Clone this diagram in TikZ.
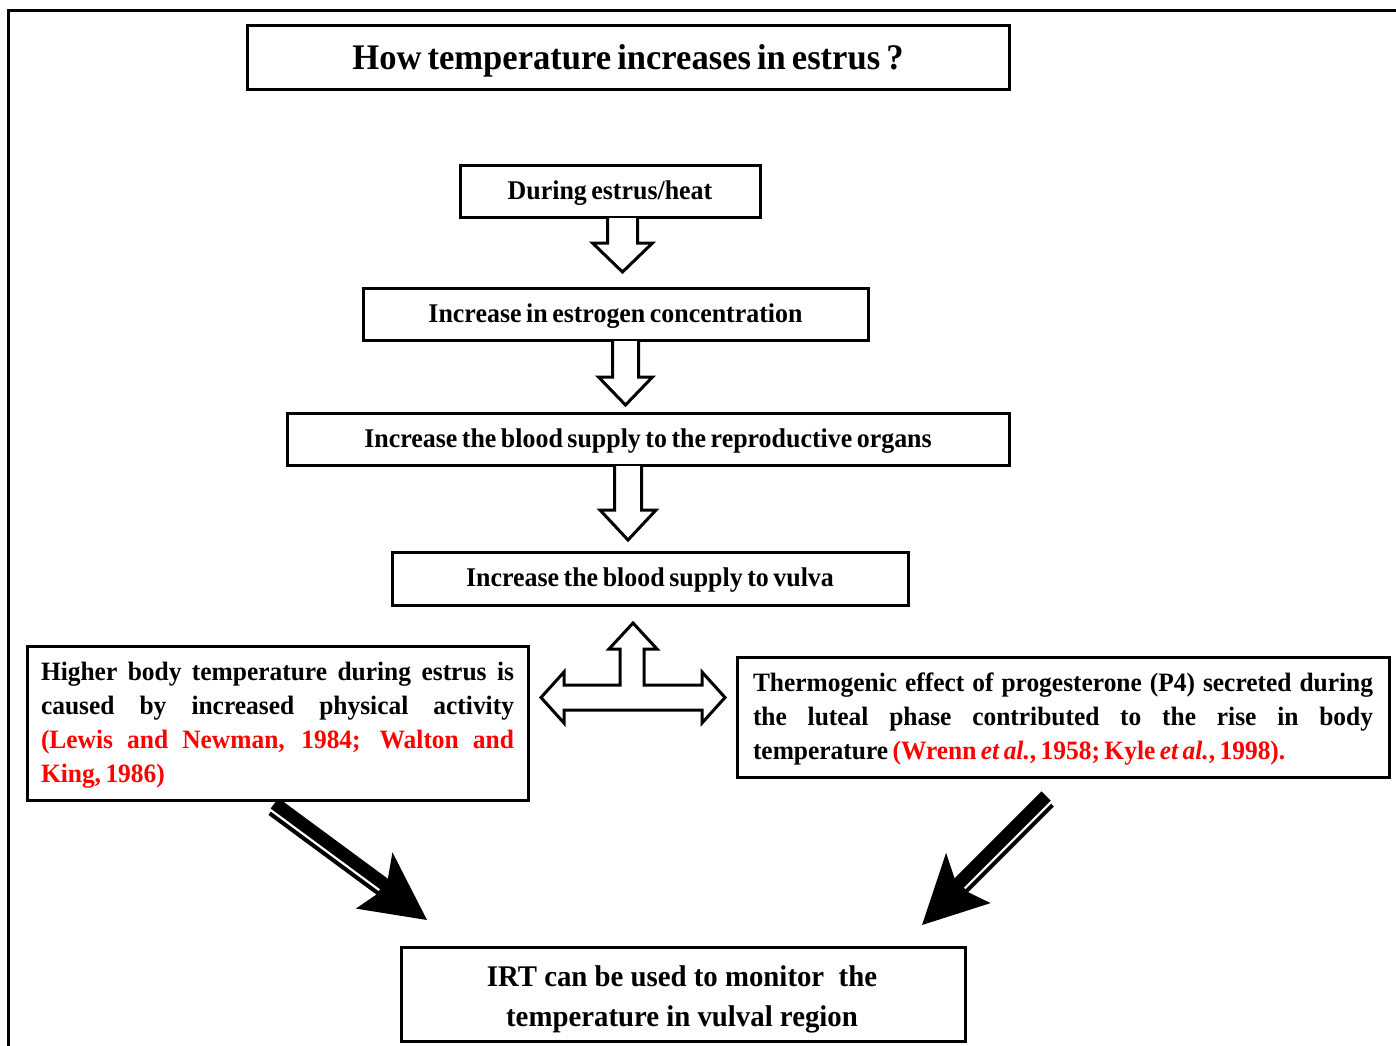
\documentclass[tikz,border=0pt]{standalone}
\usepackage{fontspec}
\setmainfont{Liberation Serif}[FakeStretch=0.96,WordSpace=0.7]
\newfontfamily\irtfont{Liberation Serif}[FakeStretch=0.96]
\usetikzlibrary{calc}
\newcommand\hdarrow[6]{%
  \draw[hollow] ({#1-#5},#2) -- ({#1-#5},#3) -- ({#1-#6},#3) -- (#1,#4) -- ({#1+#6},#3) -- ({#1+#5},#3) -- ({#1+#5},#2);}
\begin{document}
\begin{tikzpicture}[x=1pt,y=-1pt,
  box/.style={draw, line width=3pt, fill=white, inner sep=0pt, align=center,
    text height=20pt, text depth=4pt,
    font=\bfseries\fontsize{27}{30}\selectfont},
  frame/.style={draw, line width=3pt, fill=white, inner sep=0pt},
  hollow/.style={line width=3pt, fill=white, line join=miter},
  para/.style={inner sep=0pt, align=justify, font=\bfseries\fontsize{26.5}{34}\selectfont}]
\useasboundingbox (0,0) rectangle (1396,1045);
\draw[line width=3pt] (1400,10) -- (8,10) -- (8,1050);

% diagonal arrows (drawn first, boxes overlap their start)
\begin{scope}[shift={(427,920)}, rotate=-36.4]
  \fill (0,0) -- (-68,-34) -- (-56,-10) -- (-56,10) -- (-64,33) -- cycle;
  \fill (-192,-10) rectangle (-55,3);
  \fill (-190,5.5) rectangle (-55,9.5);
\end{scope}
\begin{scope}[shift={(922,925)}, rotate=-135, yscale=-1]
  \fill (0,0) -- (-68,-34) -- (-56,-10) -- (-56,10) -- (-64,33) -- cycle;
  \fill (-179,-10) rectangle (-55,3);
  \fill (-177,5.5) rectangle (-55,9.5);
\end{scope}

\node[box, minimum width=762pt, minimum height=64pt, text height=30pt, text depth=5pt,
  font=\bfseries\fontsize{36}{38}\selectfont]
  (title) at (628,57) {How temperature increases in estrus ?};
\node[box, minimum width=300pt, minimum height=52pt] (b1) at (610,191) {During estrus/heat};
\node[box, minimum width=505pt, minimum height=52pt] (b2) at (615.5,314) {Increase in estrogen concentration};
\node[box, minimum width=722pt, minimum height=52pt] (b3) at (648,439) {Increase the blood supply to the reproductive organs};
\node[box, minimum width=516pt, minimum height=53pt] (b4) at (650,578.5) {Increase the blood supply to vulva};

\node[frame, minimum width=501pt, minimum height=154pt] (left) at (277.5,723) {};
\node[para, text width=473pt] (lefttext) at (277.5,725)
 {Higher body temperature during estrus is\linebreak
  caused by increased physical activity\linebreak
  \textcolor{red}{(Lewis and Newman, 1984; Walton and\linebreak
  King, 1986)}};
\node[frame, minimum width=652pt, minimum height=120pt] (right) at (1063,717) {};
\node[para, text width=620pt] (righttext) at (1063,719.5)
 {Thermogenic effect of progesterone (P4) secreted during\linebreak
  the luteal phase contributed to the rise in body\linebreak
  temperature \textcolor{red}{(Wrenn \textit{et al.}, 1958; Kyle \textit{et al.}, 1998).}};

\node[frame, minimum width=564pt, minimum height=94pt] (irt) at (683,994) {};
\node[inner sep=0pt, align=center, font=\irtfont\bfseries\fontsize{30}{40}\selectfont]
  (irttext) at (682,999) {IRT can be used to monitor\ \ the\\temperature in vulval region};

% hollow down arrows
\hdarrow{622.5}{218}{243}{272}{15}{30}
\hdarrow{625.5}{341}{377}{405}{13}{27}
\hdarrow{628}{466}{510}{540}{13.5}{28}

% T-shaped arrow
\draw[hollow] (633,623) -- (657,649) -- (644,649) -- (644,685) -- (702,685) -- (702,672)
  -- (725,697.5) -- (702,723) -- (702,710) -- (564,710) -- (564,723) -- (541,697.5)
  -- (564,672) -- (564,685) -- (620,685) -- (620,649) -- (609,649) -- cycle;
\end{tikzpicture}
\end{document}
